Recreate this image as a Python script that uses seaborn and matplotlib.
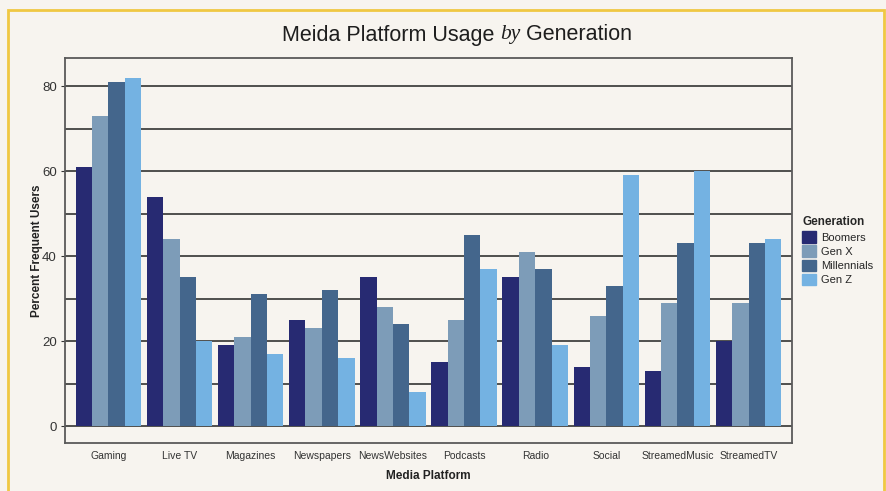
import matplotlib
matplotlib.use("Agg")
import matplotlib.pyplot as plt
import matplotlib.patches as mpatches
import pandas as pd
import seaborn as sns

# Share of frequent users (%) per media platform and generation
platforms = ["Gaming", "Live TV", "Magazines", "Newspapers", "NewsWebsites",
             "Podcasts", "Radio", "Social", "StreamedMusic", "StreamedTV"]
generations = ["Boomers", "Gen X", "Millennials", "Gen Z"]
boomers = [61, 54, 19, 25, 35, 15, 35, 14, 13, 20]
gen_x = [73, 44, 21, 23, 28, 25, 41, 26, 29, 29]
millennials = [81, 35, 31, 32, 24, 45, 37, 33, 43, 43]
gen_z = [82, 20, 17, 16, 8, 37, 19, 59, 60, 44]
y_ticks = [0, 20, 40, 60, 80]

colors = ["#272a72", "#7d9cb8", "#44668c", "#74b2e2"]
bg = "#f7f4ef"

rows = []
for gen, vals in zip(generations, [boomers, gen_x, millennials, gen_z]):
    for p, v in zip(platforms, vals):
        rows.append({"Media Platform": p, "Generation": gen, "Percent": v})
df = pd.DataFrame(rows)

sns.set_theme(style="white")
plt.rcParams["font.family"] = ["Liberation Sans", "DejaVu Sans"]

fig = plt.figure(figsize=(8.87, 4.91), dpi=100, facecolor=bg)
ax = fig.add_axes([65 / 887, 1 - 443 / 491, 727 / 887, 385 / 491])
ax.set_facecolor(bg)

# horizontal rules every 10 units behind the bars
for yv in range(0, 90, 10):
    ax.axhline(yv, color="#222222", lw=1.1, zorder=0)

sns.barplot(data=df, x="Media Platform", y="Percent", hue="Generation",
            order=platforms, hue_order=generations, palette=colors,
            saturation=1, width=0.92, gap=0, ax=ax, legend=False, zorder=2,
            linewidth=0, edgecolor="none")

ax.set_xlim(-0.61, 9.61)
ax.set_ylim(-4, 86.6)
ax.set_yticks(y_ticks)
ax.tick_params(axis="y", labelsize=9.5, colors="#333333", length=3, width=0.8,
               left=True, pad=3)
ax.tick_params(axis="x", labelsize=7.5, colors="#333333", length=0, pad=6)
ax.set_ylabel("Percent Frequent Users", fontsize=8.5, fontweight="bold",
              color="#222222", labelpad=-1)
ax.set_xlabel("Media Platform", fontsize=8.5, fontweight="bold",
              color="#222222", labelpad=6)
for s in ax.spines.values():
    s.set_color("#5a5a5a")
    s.set_linewidth(1.3)

# legend to the right of the plotting area
handles = [mpatches.Patch(color=c, label=g) for c, g in zip(colors, generations)]
leg = ax.legend(handles=handles, title="Generation", loc="upper left",
                bbox_to_anchor=(1.008, 0.60), frameon=False, fontsize=8,
                handlelength=1.2, handleheight=1.2, handletextpad=0.5,
                labelspacing=0.25, borderaxespad=0)
leg.get_title().set_fontweight("bold")
leg.get_title().set_fontsize(8.5)
leg._legend_box.align = "left"

# title with an italic serif "by"
fig.canvas.draw()
renderer = fig.canvas.get_renderer()
parts = [("Meida Platform Usage ", {"family": ["Liberation Sans"]}),
         ("by", {"family": ["Liberation Serif"], "style": "italic"}),
         (" Generation", {"family": ["Liberation Sans"]})]
texts = []
x = 0
for s, kw in parts:
    t = fig.text(x, 1 - 35 / 491, s, fontsize=15.5, color="#1e1e1e",
                 va="center", ha="left", **kw)
    fig.canvas.draw()
    w = t.get_window_extent(renderer).width / fig.bbox.width
    texts.append((t, w))
    x += w
total = x
start = 0.5 * (277 + 637) / 887 - total / 2
xx = start
for t, w in texts:
    t.set_x(xx)
    xx += w

# yellow frame
frame = mpatches.Rectangle((8 / 887, -0.05), (884 - 8) / 887, 1.05 - 10 / 491,
                           transform=fig.transFigure, fill=False,
                           edgecolor="#f0c843", lw=2, clip_on=False)
fig.patches.append(frame)

fig.savefig("out.png", dpi=100, facecolor=bg)
